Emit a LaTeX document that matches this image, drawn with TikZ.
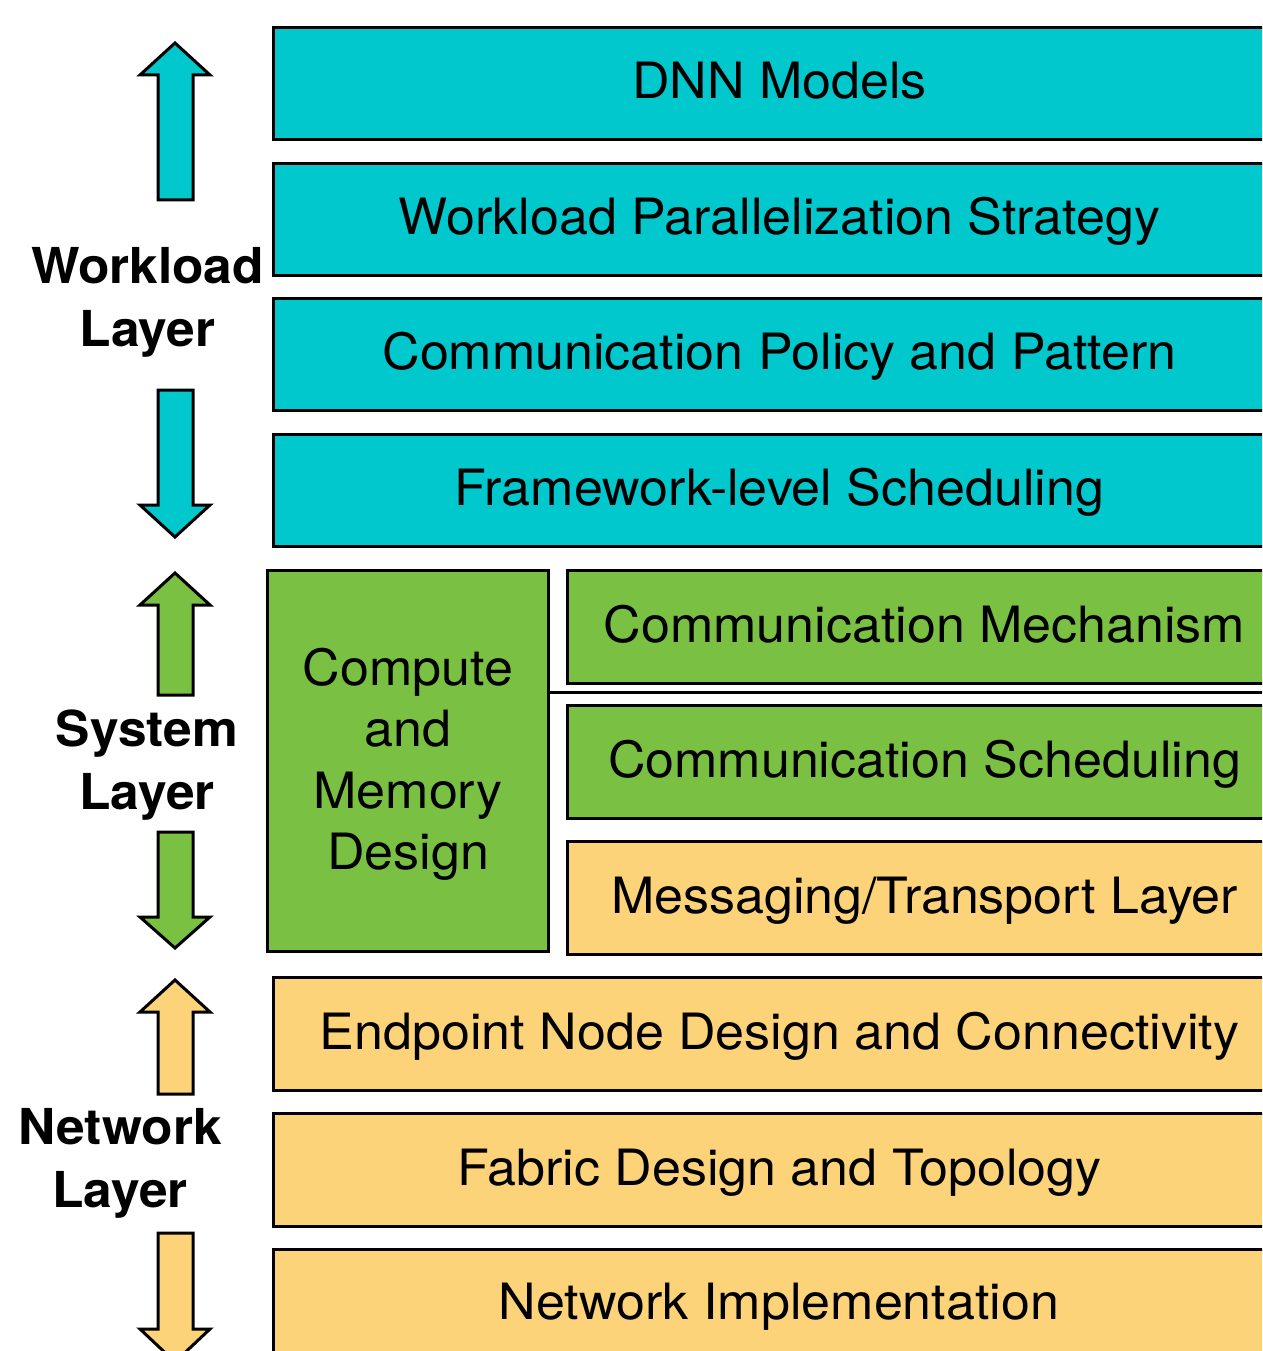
\documentclass[tikz,border=0pt]{standalone}
\usepackage{fontspec}
\setmainfont[FakeStretch=1.04]{TeX Gyre Heros}
\begin{document}
\begin{tikzpicture}[x=1pt,y=-1pt,
  box/.style={draw=black, line width=3pt, anchor=north west, inner sep=0pt,
    font=\fontsize{50}{62}\selectfont, text=black, text height=36pt, text depth=5.4pt},
  wl/.style={box, fill=wlcol, minimum width=1012pt, minimum height=112pt},
  sys/.style={box, fill=syscol, minimum height=113pt},
  net/.style={box, fill=netcol, minimum height=113pt},
  layerlabel/.style={font=\fontsize{49.5}{63}\selectfont\bfseries, align=center, inner sep=0pt},
  blockarrow/.style={draw=black, line width=3pt, line join=miter}
]
\definecolor{wlcol}{RGB}{0,200,204}
\definecolor{syscol}{RGB}{122,193,67}
\definecolor{netcol}{RGB}{253,211,122}

\useasboundingbox (0,0) rectangle (1262,1351);
\clip (0,0) rectangle (1262,1351);

% workload layer
\node[wl] (dnn) at (272,26) {DNN Models};
\node[wl] (par) at (272,162) {Workload Parallelization Strategy};
\node[wl] (pol) at (272,297) {Communication Policy and Pattern};
\node[wl] (fw)  at (272,433) {Framework-level Scheduling};

% system layer
\node[sys, minimum width=281pt, minimum height=381pt, text height=, text depth=,
      font=\fontsize{50}{61.3}\selectfont] (cmp) at (266,569)
      {\raisebox{-9.5pt}[0pt][0pt]{\parbox{270pt}{\centering Compute\\and\\Memory\\Design}}};
\node[sys, minimum width=718pt] (mech) at (566,569) {\hspace*{-4pt}Communication Mechanism};
\node[sys, minimum width=718pt] (csch) at (566,704) {\hspace*{-4pt}Communication Scheduling};
\coordinate (sepR) at (1300,692);
\draw[line width=3pt] (cmp.east |- sepR) -- (sepR);

% network layer
\node[net, minimum width=718pt] (msg) at (566,840) {\hspace*{-4pt}Messaging/Transport Layer};
\node[net, minimum width=1012pt] (ep)  at (272,976) {Endpoint Node Design and Connectivity};
\node[net, minimum width=1012pt] (fab) at (272,1112) {Fabric Design and Topology};
\node[net, minimum width=1012pt, minimum height=130pt] (impl) at (272,1248) {};
\node[font=\fontsize{50}{62}\selectfont, inner sep=0pt, text height=36pt, text depth=5.4pt]
  (impltext) at (779,1304.5) {Network Implementation};

% block arrows: colour, tip y, head base y, tail y
\newcommand{\layerarrow}[4]{%
  \draw[blockarrow, fill=#1] (140,#3) -- (175,#2) -- (210,#3) -- (193,#3)
    -- (193,#4) -- (158,#4) -- (158,#3) -- cycle;}
\layerarrow{wlcol}{43}{75}{200}
\layerarrow{wlcol}{537}{505}{390}
\layerarrow{syscol}{573}{605}{695}
\layerarrow{syscol}{948}{917}{832}
\layerarrow{netcol}{980}{1012}{1094}
\layerarrow{netcol}{1362}{1329}{1233}

% layer labels
\node[layerlabel] (lw) at (147.5,302) {Workload\\Layer};
\node[layerlabel] (ls) at (147,765) {System\\Layer};
\node[layerlabel] (ln) at (120,1163) {Network\\Layer};
\end{tikzpicture}
\end{document}
